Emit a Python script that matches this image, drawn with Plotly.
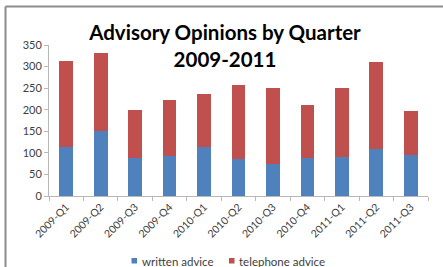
import plotly.graph_objects as go

quarters = ["2009-Q1", "2009-Q2", "2009-Q3", "2009-Q4", "2010-Q1", "2010-Q2",
            "2010-Q3", "2010-Q4", "2011-Q1", "2011-Q2", "2011-Q3"]
written = [113, 151, 89, 93, 113, 85, 74, 89, 91, 110, 94]
totals = [314, 331, 199, 223, 236, 257, 251, 212, 251, 311, 197]
telephone = [t - w for t, w in zip(totals, written)]
y_ticks = [0, 50, 100, 150, 200, 250, 300, 350]
series_names = ["written advice", "telephone advice"]
series_colors = ["#4F81BD", "#C0504D"]

FONT = "Lato, Carlito, Calibri, sans-serif"

fig = go.Figure()
fig.add_trace(go.Bar(x=quarters, y=written, name=series_names[0],
                     marker=dict(color=series_colors[0], line=dict(width=0))))
fig.add_trace(go.Bar(x=quarters, y=telephone, name=series_names[1],
                     marker=dict(color=series_colors[1], line=dict(width=0))))

L, R, T, B = 49, 15, 45, 71
W, H = 443, 267
pw, ph = W - L - R, H - T - B

def px(x):
    return (x - L) / pw

def py(y):
    return (H - B - y) / ph

fig.update_layout(
    width=W, height=H,
    barmode="stack", bargap=0.6,
    margin=dict(l=L, r=R, t=T, b=B, pad=0, autoexpand=False),
    paper_bgcolor="white", plot_bgcolor="white",
    font=dict(family=FONT, color="#404040", size=11),
    title=dict(text="<b>Advisory Opinions by Quarter<br>2009-2011</b>",
               x=px(225), xref="paper", xanchor="center",
               y=1 - 40 / H, yref="container", yanchor="top",
               font=dict(family=FONT, size=20.5, color="#000000")),
    xaxis=dict(tickangle=-45, showline=True, linecolor="#b8b8b8", linewidth=1,
               ticks="outside", tickcolor="#b8b8b8", ticklen=4,
               tickson="boundaries", showgrid=False,
               tickfont=dict(size=10.5, color="#404040")),
    yaxis=dict(range=[0, 350], tickvals=y_ticks, showline=True,
               linecolor="#b8b8b8", linewidth=1, ticks="outside",
               tickcolor="#b8b8b8", ticklen=4, showgrid=False, zeroline=False,
               tickfont=dict(size=11, color="#404040")),
    showlegend=False,
)

# legend drawn as swatches + text entries
legend_x = [131.5, 229]
for name, color, lx in zip(series_names, series_colors, legend_x):
    fig.add_shape(type="rect", xref="paper", yref="paper",
                  x0=px(lx), x1=px(lx + 5.5), y0=py(258), y1=py(263.5),
                  line=dict(width=0), fillcolor=color)
    fig.add_annotation(xref="paper", yref="paper", x=px(lx + 8), y=py(261),
                       xanchor="left", yanchor="middle", showarrow=False,
                       text=name,
                       font=dict(family=FONT, size=11.5, color="#404040"))

# chart frame (left and top border)
fig.add_shape(type="line", xref="paper", yref="paper",
              x0=px(5.5), x1=px(5.5), y0=py(6.5), y1=py(267),
              line=dict(color="#8c8c8c", width=2))
fig.add_shape(type="line", xref="paper", yref="paper",
              x0=px(5.5), x1=px(443), y0=py(6.5), y1=py(6.5),
              line=dict(color="#8c8c8c", width=2))

fig.write_html("out.html",
               config={"displayModeBar": False},
               post_script="document.body.style.margin='0';"
                           "document.body.style.overflow='hidden';")
